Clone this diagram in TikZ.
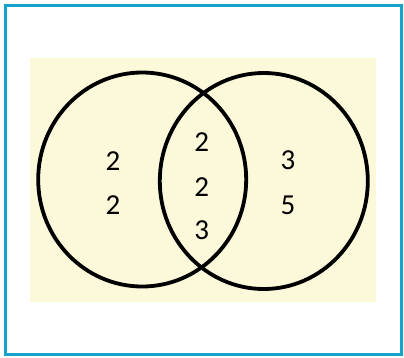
\documentclass[tikz,border=0pt]{standalone}
\usepackage{fontspec}
\setmainfont{Carlito}
\usetikzlibrary{shapes.geometric}
\definecolor{frameblue}{RGB}{22,163,200}
\definecolor{paleyellow}{RGB}{252,249,218}
\begin{document}
\begin{tikzpicture}[x=1pt,y=-1pt,
  setcircle/.style={draw=black,line width=3.8pt,ellipse,inner sep=0pt},
  num/.style={font=\fontsize{29}{29}\selectfont,inner sep=0pt,text=black}]
\useasboundingbox (0,0) rectangle (404,357);
\fill[white] (0,0) rectangle (404,357);
\draw[frameblue,line width=3pt] (5.5,5) rectangle (401.5,354.5);
\fill[paleyellow] (30,57.7) rectangle (376,301.7);
\node[setcircle,minimum width=208pt,minimum height=214pt] (A) at (142.2,179.5) {};
\node[setcircle,minimum width=208pt,minimum height=216pt] (B) at (263.8,181) {};
\node[num] (a1) at (113,161) {2};
\node[num] (a2) at (113,205) {2};
\node[num] (c1) at (201.7,141.7) {2};
\node[num] (c2) at (201.7,186.7) {2};
\node[num] (c3) at (201.7,230) {3};
\node[num] (b1) at (288,160) {3};
\node[num] (b2) at (288,205) {5};
\end{tikzpicture}
\end{document}
